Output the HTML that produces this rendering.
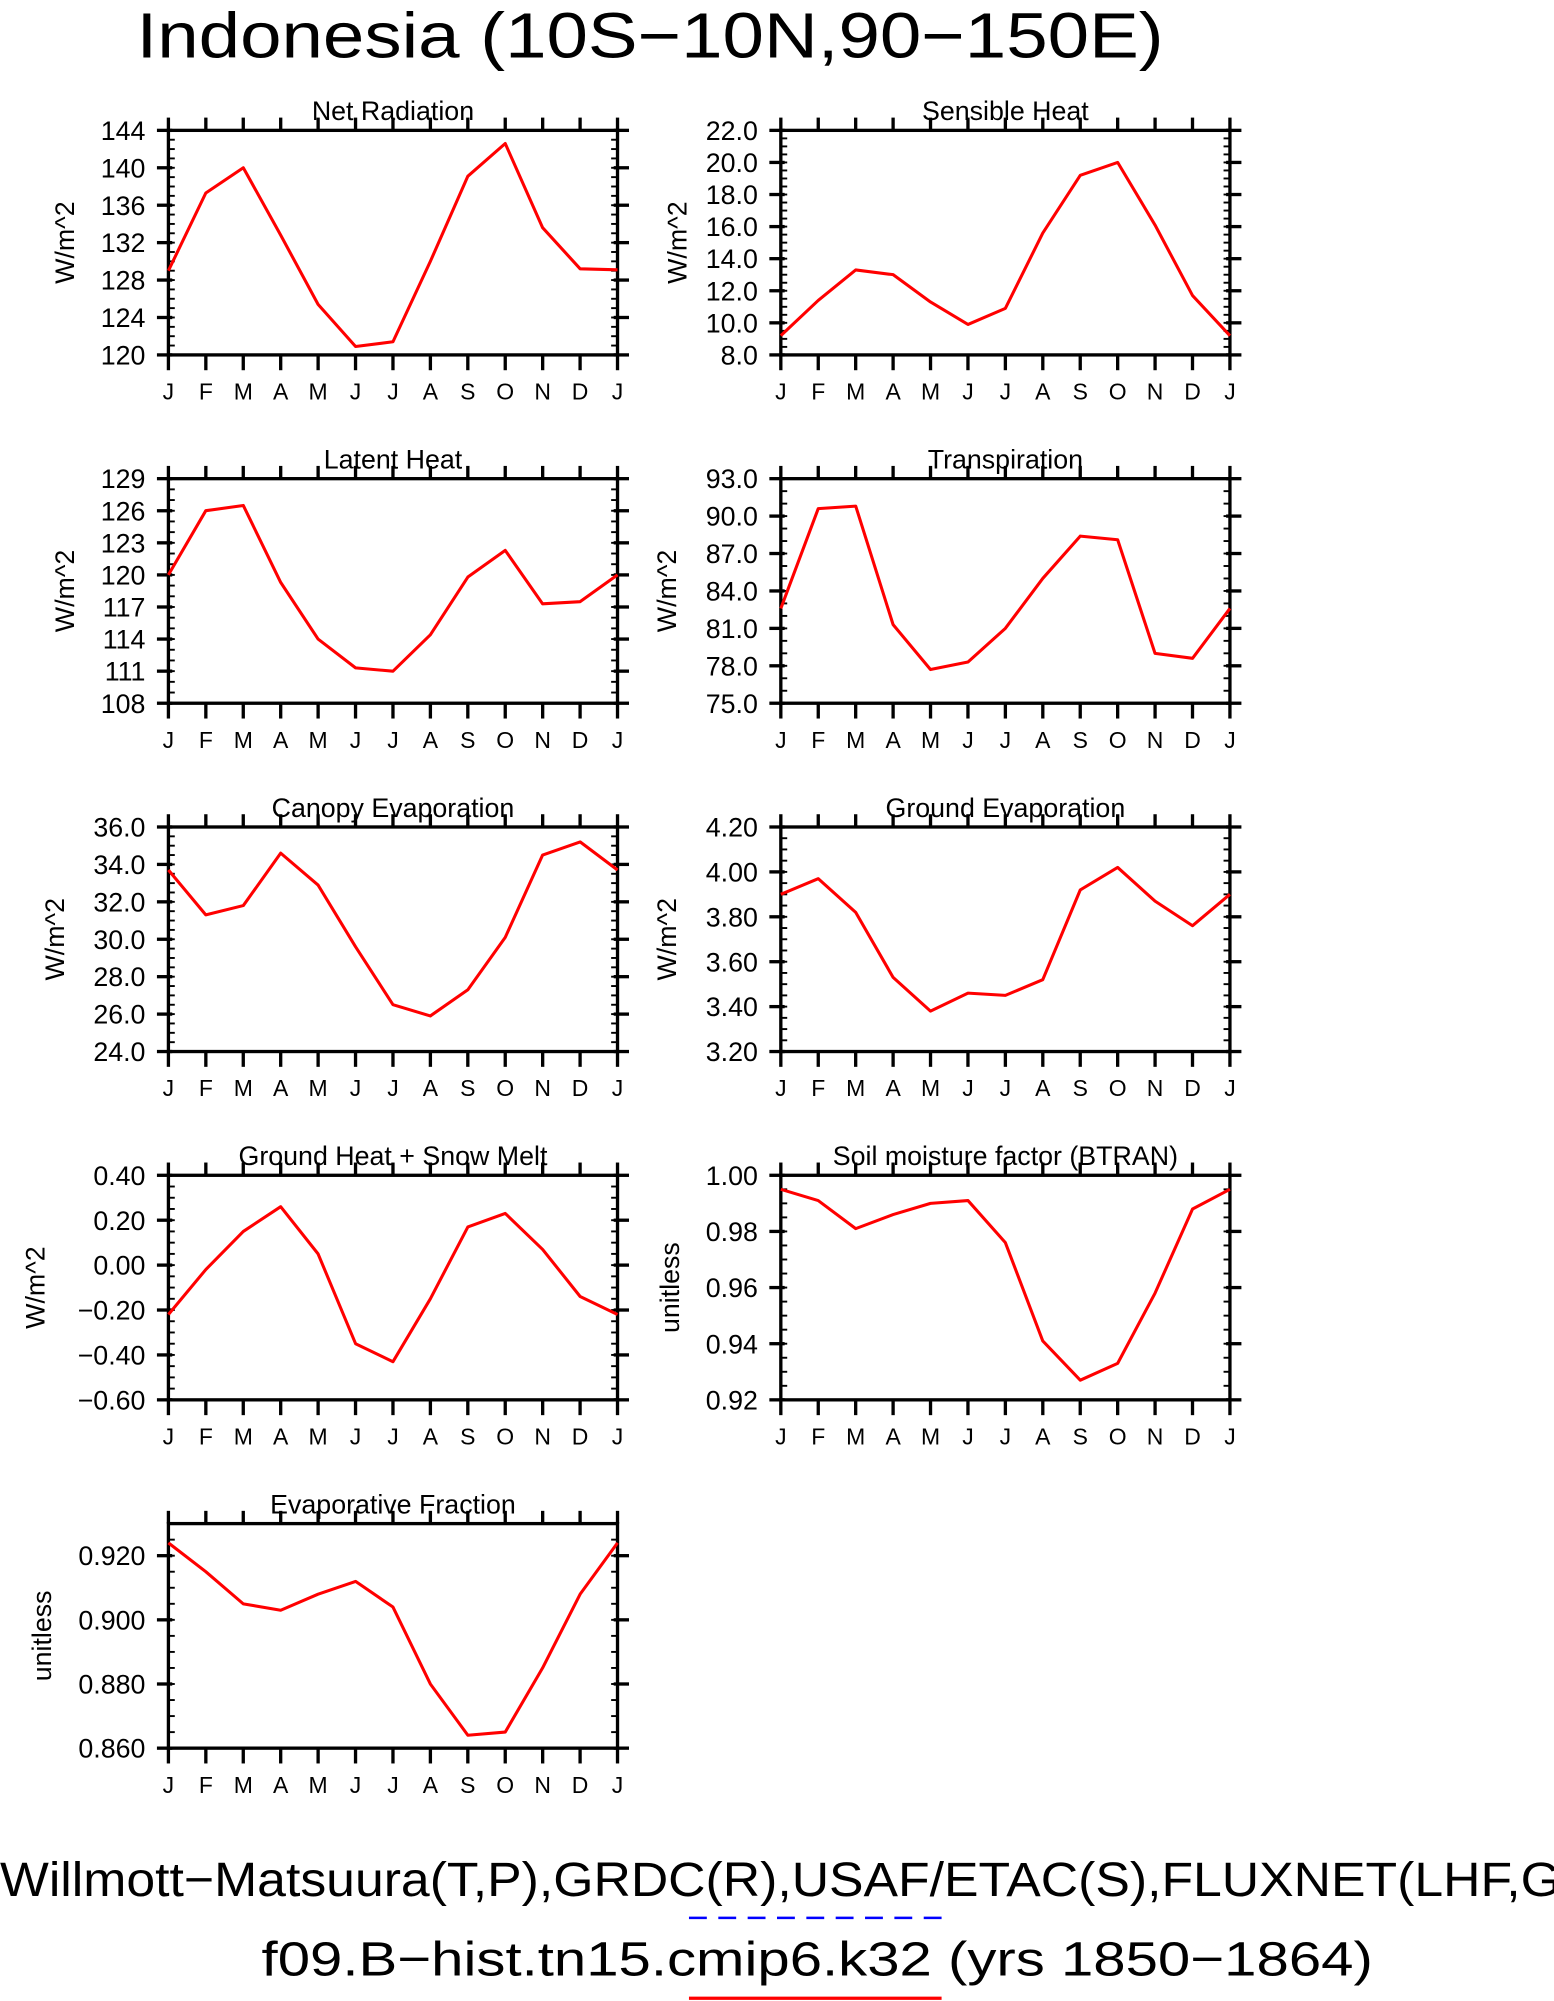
<!DOCTYPE html>
<html><head><meta charset="utf-8">
<style>
html,body{margin:0;padding:0;background:#fff;}
svg{display:block;}
text{font-family:"Liberation Sans",sans-serif;fill:#000;}
</style></head>
<body>
<svg id="chart" width="1554" height="2001" viewBox="0 0 1218 1568" xmlns="http://www.w3.org/2000/svg">
<text x="107" y="45" font-size="50" textLength="805" lengthAdjust="spacingAndGlyphs">Indonesia (10S−10N,90−150E)</text>
<text x="0" y="1486" font-size="38" textLength="1291" lengthAdjust="spacingAndGlyphs">Willmott−Matsuura(T,P),GRDC(R),USAF/ETAC(S),FLUXNET(LHF,GPP)</text>
<line x1="540" y1="1503" x2="738" y2="1503" stroke="#0000ff" stroke-width="2" stroke-dasharray="14,9"/>
<text x="205" y="1548" font-size="38" textLength="871" lengthAdjust="spacingAndGlyphs">f09.B−hist.tn15.cmip6.k32 (yrs 1850−1864)</text>
<line x1="540" y1="1566" x2="738" y2="1566" stroke="#ff0000" stroke-width="2.5"/>
<g id="panels"></g>
</svg>
<script>
const months = ["J","F","M","A","M","J","J","A","S","O","N","D","J"];
const netRadValues = [129.0,137.3,140.0,132.8,125.4,120.9,121.4,130.0,139.1,142.6,133.6,129.2,129.1];
const netRadTicks = ["120","124","128","132","136","140","144"];
const sensibleValues = [9.2,11.4,13.3,13.0,11.3,9.9,10.9,15.6,19.2,20.0,16.1,11.7,9.2];
const sensibleTicks = ["8.0","10.0","12.0","14.0","16.0","18.0","20.0","22.0"];
const latentValues = [120.0,126.0,126.5,119.3,114.0,111.3,111.0,114.4,119.8,122.3,117.3,117.5,120.0];
const latentTicks = ["108","111","114","117","120","123","126","129"];
const transpValues = [82.6,90.6,90.8,81.3,77.7,78.3,81.0,85.0,88.4,88.1,79.0,78.6,82.6];
const transpTicks = ["75.0","78.0","81.0","84.0","87.0","90.0","93.0"];
const canopyValues = [33.7,31.3,31.8,34.6,32.9,29.6,26.5,25.9,27.3,30.1,34.5,35.2,33.7];
const canopyTicks = ["24.0","26.0","28.0","30.0","32.0","34.0","36.0"];
const groundEvapValues = [3.90,3.97,3.82,3.53,3.38,3.46,3.45,3.52,3.92,4.02,3.87,3.76,3.90];
const groundEvapTicks = ["3.20","3.40","3.60","3.80","4.00","4.20"];
const groundHeatValues = [-0.22,-0.02,0.15,0.26,0.05,-0.35,-0.43,-0.15,0.17,0.23,0.07,-0.14,-0.22];
const groundHeatTicks = ["-0.60","-0.40","-0.20","0.00","0.20","0.40"];
const btranValues = [0.995,0.991,0.981,0.986,0.990,0.991,0.976,0.941,0.927,0.933,0.958,0.988,0.995];
const btranTicks = ["0.92","0.94","0.96","0.98","1.00"];
const efValues = [0.924,0.915,0.905,0.903,0.908,0.912,0.904,0.880,0.864,0.865,0.885,0.908,0.924];
const efTicks = ["0.860","0.880","0.900","0.920"];

const panels = [
 {name:"net-radiation",title:"Net Radiation",vals:netRadValues,ticks:netRadTicks,min:120,max:144,minor:1,col:0,row:0,unit:"W/m^2",ux:58},
 {name:"sensible-heat",title:"Sensible Heat",vals:sensibleValues,ticks:sensibleTicks,min:8,max:22,minor:0.5,col:1,row:0,unit:"W/m^2",ux:538},
 {name:"latent-heat",title:"Latent Heat",vals:latentValues,ticks:latentTicks,min:108,max:129,minor:1,col:0,row:1,unit:"W/m^2",ux:58},
 {name:"transpiration",title:"Transpiration",vals:transpValues,ticks:transpTicks,min:75,max:93,minor:1,col:1,row:1,unit:"W/m^2",ux:530},
 {name:"canopy-evaporation",title:"Canopy Evaporation",vals:canopyValues,ticks:canopyTicks,min:24,max:36,minor:0.5,col:0,row:2,unit:"W/m^2",ux:50},
 {name:"ground-evaporation",title:"Ground Evaporation",vals:groundEvapValues,ticks:groundEvapTicks,min:3.2,max:4.2,minor:0.05,col:1,row:2,unit:"W/m^2",ux:530},
 {name:"ground-heat",title:"Ground Heat + Snow Melt",vals:groundHeatValues,ticks:groundHeatTicks,min:-0.6,max:0.4,minor:0.05,col:0,row:3,unit:"W/m^2",ux:35},
 {name:"btran",title:"Soil moisture factor (BTRAN)",vals:btranValues,ticks:btranTicks,min:0.92,max:1.0,minor:0.005,col:1,row:3,unit:"unitless",ux:532},
 {name:"evaporative-fraction",title:"Evaporative Fraction",vals:efValues,ticks:efTicks,min:0.86,max:0.93,minor:0.005,col:0,row:4,unit:"unitless",ux:40}
];
const NS="http://www.w3.org/2000/svg";
const root=document.getElementById('panels');
function mk(tag,attrs,parent){const e=document.createElementNS(NS,tag);for(const k in attrs)e.setAttribute(k,attrs[k]);parent.appendChild(e);return e;}
panels.forEach(p=>{
  const L=p.col?612:132, R=p.col?964:484, T=102+273*p.row, B=T+176;
  const g=mk('g',{},root);
  
  
  const xs=i=>L+(R-L)*i/(months.length-1);
  const ys=v=>B-(B-T)*(v-p.min)/(p.max-p.min);
  const frame=mk('rect',{x:L,y:T,width:R-L,height:B-T,fill:'none',stroke:'#000','stroke-width':2.6},g);
  
  
  const n=Math.round((p.max-p.min)/p.minor);
  for(let k=0;k<=n;k++){const y=ys(p.min+k*p.minor);
    mk('line',{x1:L,x2:L+5,y1:y,y2:y,stroke:'#000','stroke-width':1.5},g);
    mk('line',{x1:R,x2:R-5,y1:y,y2:y,stroke:'#000','stroke-width':1.5},g);}
  p.ticks.forEach(t=>{const y=ys(parseFloat(t));
    mk('line',{x1:L-9,x2:L+3,y1:y,y2:y,stroke:'#000','stroke-width':2.6},g);
    mk('line',{x1:R-3,x2:R+9,y1:y,y2:y,stroke:'#000','stroke-width':2.6},g);
    const tl=mk('text',{x:L-18,y:y+7.5,'font-size':21,'text-anchor':'end'},g);
    tl.textContent=t.replace('-','−');
    
    
  });
  months.forEach((m,i)=>{const x=xs(i);
    mk('line',{x1:x,x2:x,y1:T-10,y2:T,stroke:'#000','stroke-width':2.6},g);
    mk('line',{x1:x,x2:x,y1:B,y2:B+12,stroke:'#000','stroke-width':2.6},g);
    const ml=mk('text',{x:x,y:B+35,'font-size':18,'text-anchor':'middle'},g);
    ml.textContent=m;
    
    
  });
  const tt=mk('text',{x:(L+R)/2,y:T-8,'font-size':21,'text-anchor':'middle'},g);
  tt.textContent=p.title;
  
  
  const cy=(T+B)/2;
  const ut=mk('text',{x:p.ux,y:cy,'font-size':21,'text-anchor':'middle',transform:`rotate(-90 ${p.ux} ${cy})`},g);
  ut.textContent=p.unit;
  
  
  const pts=p.vals.map((v,i)=>xs(i).toFixed(1)+','+ys(v).toFixed(1)).join(' ');
  const line=mk('polyline',{points:pts,fill:'none',stroke:'#ff0000','stroke-width':2.4,'stroke-linejoin':'round'},g);
  
  
});
</script>
</body></html>
